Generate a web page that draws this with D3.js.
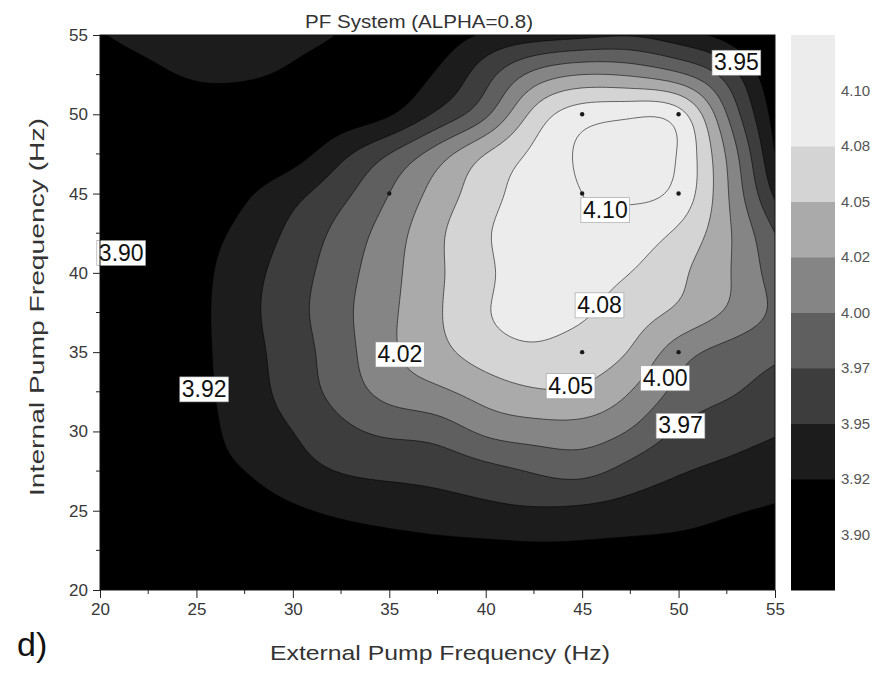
<!DOCTYPE html>
<html><head><meta charset="utf-8">
<script src="https://cdn.jsdelivr.net/npm/d3@7"></script>
<style>
body{margin:0;background:#fff;}
svg{display:block;font-family:"Liberation Sans",Arial,Helvetica,sans-serif;}
</style>
</head><body>
<svg id="chart" width="884" height="675"></svg>
<script>
// ---------------- data ----------------
const xValues = [20, 22.5, 25, 27.5, 30, 32.5, 35, 37.5, 40, 42.5, 45, 47.5, 50, 52.5, 55];
const yValues = [55, 52.5, 50, 47.5, 45, 42.5, 40, 37.5, 35, 32.5, 30, 27.5, 25, 22.5, 20];
// one row per Internal Pump Frequency (top = 55 Hz), columns follow xValues
const z55   = [3.922, 3.940, 3.945, 3.945, 3.940, 3.922, 3.900, 3.910, 3.928, 3.937, 3.943, 3.948, 3.935, 3.915, 3.875];
const z52_5 = [3.900, 3.915, 3.930, 3.930, 3.918, 3.905, 3.910, 3.928, 3.965, 4.007, 4.025, 4.022, 4.005, 3.965, 3.900];
const z50   = [3.890, 3.895, 3.900, 3.900, 3.903, 3.910, 3.923, 3.955, 3.995, 4.057, 4.088, 4.095, 4.085, 4.000, 3.915];
const z47_5 = [3.890, 3.893, 3.900, 3.905, 3.915, 3.943, 3.975, 4.012, 4.050, 4.080, 4.104, 4.115, 4.098, 4.022, 3.925];
const z45   = [3.885, 3.893, 3.903, 3.921, 3.942, 3.968, 4.000, 4.035, 4.065, 4.088, 4.100, 4.104, 4.092, 4.028, 3.945];
const z42_5 = [3.885, 3.897, 3.912, 3.933, 3.956, 3.983, 4.012, 4.045, 4.072, 4.093, 4.098, 4.090, 4.070, 4.030, 3.975];
const z40   = [3.887, 3.900, 3.917, 3.940, 3.963, 3.990, 4.017, 4.046, 4.070, 4.090, 4.087, 4.075, 4.055, 4.028, 3.988];
const z37_5 = [3.886, 3.899, 3.918, 3.942, 3.966, 3.993, 4.020, 4.047, 4.073, 4.083, 4.078, 4.062, 4.045, 4.022, 3.995];
const z35   = [3.886, 3.899, 3.918, 3.940, 3.963, 3.990, 4.020, 4.042, 4.062, 4.071, 4.064, 4.048, 4.012, 3.992, 3.980];
const z32_5 = [3.886, 3.898, 3.917, 3.938, 3.960, 3.985, 4.008, 4.020, 4.036, 4.047, 4.046, 4.025, 3.993, 3.978, 3.966];
const z30   = [3.886, 3.898, 3.915, 3.934, 3.950, 3.968, 3.980, 3.986, 4.005, 4.013, 4.014, 3.998, 3.972, 3.960, 3.952];
const z27_5 = [3.887, 3.898, 3.912, 3.925, 3.940, 3.951, 3.955, 3.958, 3.967, 3.977, 3.982, 3.966, 3.952, 3.945, 3.938];
const z25   = [3.885, 3.893, 3.900, 3.910, 3.921, 3.930, 3.936, 3.940, 3.944, 3.947, 3.945, 3.940, 3.935, 3.928, 3.922];
const z22_5 = [3.882, 3.887, 3.892, 3.897, 3.903, 3.908, 3.912, 3.916, 3.918, 3.920, 3.920, 3.918, 3.916, 3.912, 3.905];
const z20   = [3.878, 3.882, 3.886, 3.890, 3.894, 3.897, 3.900, 3.902, 3.904, 3.905, 3.905, 3.903, 3.900, 3.896, 3.890];
const zRows = [z55, z52_5, z50, z47_5, z45, z42_5, z40, z37_5, z35, z32_5, z30, z27_5, z25, z22_5, z20];

const levels = [3.900, 3.925, 3.950, 3.975, 4.000, 4.025, 4.050, 4.075, 4.100];
const bandThresholds = [3.925, 3.950, 3.975, 4.000, 4.025, 4.050, 4.075];
const bandColors = ["#000000", "#1c1c1c", "#3d3d3d", "#5f5f5f", "#858585", "#aaaaaa", "#d4d4d4", "#ececec"];

const xTicks = [20, 25, 30, 35, 40, 45, 50, 55];
const yTicks = [20, 25, 30, 35, 40, 45, 50, 55];
const xMinor = [22.5, 27.5, 32.5, 37.5, 42.5, 47.5, 52.5];
const yMinor = [22.5, 27.5, 32.5, 37.5, 42.5, 47.5, 52.5];

const cbEdges = [3.875, 3.900, 3.925, 3.950, 3.975, 4.000, 4.025, 4.050, 4.075, 4.100, 4.125];
const cbTickValues = [3.900, 3.925, 3.950, 3.975, 4.000, 4.025, 4.050, 4.075, 4.100];
const cbTickLabels = ["3.90", "3.92", "3.95", "3.97", "4.00", "4.02", "4.05", "4.08", "4.10"];

const labelTexts = ["3.95", "4.10", "3.90", "4.08", "4.02", "4.05", "4.00", "3.92", "3.97"];
const labelX = [53.0, 46.2, 21.1, 45.9, 35.55, 44.4, 49.3, 25.4, 50.1];
const labelY = [53.3, 44.0, 41.3, 38.0, 34.9, 32.9, 33.4, 32.7, 30.4];

const dotX = [35, 45, 50, 45, 50, 45, 50, 35];
const dotY = [45, 50, 50, 45, 45, 35, 35, 35];

// ---------------- drawing ----------------
const svg = d3.select("#chart");
const X0 = 100, X1 = 775, Y0 = 35, Y1 = 590;
const x = d3.scaleLinear().domain([20, 55]).range([X0, X1]);
const y = d3.scaleLinear().domain([20, 55]).range([Y1, Y0]);
const color = d3.scaleThreshold().domain(bandThresholds).range(bandColors);

// smooth rendering of the read grid (natural cubic spline resampling, for drawing only)
const F = 10;
const nx = xValues.length, ny = yValues.length;
function splineM(v) {
  const n = v.length, M = new Float64Array(n);
  const c = new Float64Array(n), d = new Float64Array(n);
  for (let i = 1; i < n - 1; i++) {
    const r = 6 * (v[i + 1] - 2 * v[i] + v[i - 1]);
    const m = 4 - (i > 1 ? c[i - 1] : 0);
    c[i] = 1 / m;
    d[i] = (r - (i > 1 ? d[i - 1] : 0)) / m;
  }
  for (let i = n - 2; i >= 1; i--) M[i] = d[i] - c[i] * M[i + 1];
  return M;
}
function resample(v, count) {
  const n = v.length, M = splineM(v), out = new Float64Array(count);
  for (let k = 0; k < count; k++) {
    const u = k / F;
    let i = Math.floor(u); if (i >= n - 1) i = n - 2;
    const t = u - i, s = 1 - t;
    out[k] = s * v[i] + t * v[i + 1] + ((s * s * s - s) * M[i] + (t * t * t - t) * M[i + 1]) / 6;
  }
  return out;
}
const fx = (nx - 1) * F + 1, fy = (ny - 1) * F + 1;
const rowsH = zRows.map(r => resample(r, fx));
const fine = new Float64Array(fx * fy);
for (let c = 0; c < fx; c++) {
  const col = resample(rowsH.map(r => r[c]), fy);
  for (let j = 0; j < fy; j++) fine[j * fx + c] = col[j];
}
const dxStep = (xValues[nx - 1] - xValues[0]) / (fx - 1);
const dyStep = (yValues[ny - 1] - yValues[0]) / (fy - 1);
const proj = d3.geoTransform({
  point(px, py) {
    this.stream.point(x(xValues[0] + (px - 0.5) * dxStep), y(yValues[0] + (py - 0.5) * dyStep));
  }
});
const path = d3.geoPath(proj);
const contours = d3.contours().size([fx, fy]).thresholds(levels)(fine);

svg.append("defs").append("clipPath").attr("id", "clip")
  .append("rect").attr("x", X0).attr("y", Y0).attr("width", X1 - X0).attr("height", Y1 - Y0);

const plot = svg.append("g").attr("clip-path", "url(#clip)");
plot.append("rect").attr("x", X0).attr("y", Y0).attr("width", X1 - X0).attr("height", Y1 - Y0)
  .attr("fill", bandColors[0]);
plot.selectAll("path.fill").data(contours).join("path")
  .attr("class", "fill").attr("d", path).attr("fill", d => color(d.value)).attr("stroke", "none");
plot.selectAll("path.line").data(contours).join("path")
  .attr("class", "line").attr("d", path).attr("fill", "none")
  .attr("stroke", "#000").attr("stroke-opacity", 0.55).attr("stroke-width", 1);

// data points
plot.selectAll("circle.dot").data(dotX).join("circle")
  .attr("class", "dot").attr("cx", d => x(d)).attr("cy", (d, i) => y(dotY[i]))
  .attr("r", 2.2).attr("fill", "#1a1a1a");

// contour labels
const lab = svg.append("g").selectAll("g").data(labelTexts).join("g")
  .attr("transform", (d, i) => `translate(${x(labelX[i])},${y(labelY[i])})`);
lab.append("rect");
lab.append("text").text(d => d).attr("text-anchor", "middle").attr("dy", "0.36em")
  .attr("font-size", 23).attr("fill", "#111");
lab.each(function () {
  const t = d3.select(this).select("text").node().getBBox();
  d3.select(this).select("rect")
    .attr("x", t.x - 2).attr("y", t.y + 1).attr("width", t.width + 4).attr("height", t.height - 1)
    .attr("fill", "#fff").attr("stroke", "#9a9a9a").attr("stroke-width", 0.6);
});

// frame
svg.append("rect").attr("x", X0).attr("y", Y0).attr("width", X1 - X0).attr("height", Y1 - Y0)
  .attr("fill", "none").attr("stroke", "#111").attr("stroke-width", 1);

// axes
const xAxis = d3.axisBottom(x).tickValues(xTicks).tickSize(8).tickPadding(5).tickFormat(d3.format("d"));
const gx = svg.append("g").attr("transform", `translate(0,${Y1})`).call(xAxis);
const yAxis = d3.axisLeft(y).tickValues(yTicks).tickSize(7).tickPadding(5).tickFormat(d3.format("d"));
const gy = svg.append("g").attr("transform", `translate(${X0},0)`).call(yAxis);
[gx, gy].forEach(g => {
  g.select(".domain").remove();
  g.selectAll(".tick line").attr("stroke", "#222");
  g.selectAll(".tick text").attr("font-size", 17).attr("fill", "#383838")
    .attr("font-family", "Liberation Sans, Arial, sans-serif");
});
svg.append("g").selectAll("line").data(xMinor).join("line")
  .attr("x1", d => x(d)).attr("x2", d => x(d)).attr("y1", Y1).attr("y2", Y1 + 4).attr("stroke", "#222");
svg.append("g").selectAll("line").data(yMinor).join("line")
  .attr("y1", d => y(d)).attr("y2", d => y(d)).attr("x1", X0).attr("x2", X0 - 4).attr("stroke", "#222");

// colour bar
const CB0 = 791, CB1 = 835;
const cb = d3.scaleLinear().domain([cbEdges[0], cbEdges[cbEdges.length - 1]]).range([Y1, Y0]);
svg.append("g").selectAll("rect").data(cbEdges.slice(0, -1)).join("rect")
  .attr("x", CB0).attr("width", CB1 - CB0)
  .attr("y", (d, i) => cb(cbEdges[i + 1])).attr("height", (d, i) => cb(d) - cb(cbEdges[i + 1]) + 0.5)
  .attr("fill", d => color(d + 1e-6));
svg.append("g").selectAll("text").data(cbTickValues).join("text")
  .attr("x", CB1 + 6).attr("y", d => cb(d)).attr("dy", "0.35em")
  .attr("font-size", 15).attr("fill", "#555").text((d, i) => cbTickLabels[i]);

// titles
svg.append("text").attr("x", 419).attr("y", 28).attr("text-anchor", "middle")
  .attr("font-size", 18).attr("fill", "#333").attr("textLength", 228).attr("lengthAdjust", "spacingAndGlyphs")
  .text("PF System (ALPHA=0.8)");
svg.append("text").attr("x", 440).attr("y", 660).attr("text-anchor", "middle")
  .attr("font-size", 21).attr("fill", "#333").attr("textLength", 340).attr("lengthAdjust", "spacingAndGlyphs")
  .text("External Pump Frequency (Hz)");
svg.append("text").attr("transform", "translate(44,307) rotate(-90)").attr("text-anchor", "middle")
  .attr("font-size", 21).attr("fill", "#333").attr("textLength", 378).attr("lengthAdjust", "spacingAndGlyphs")
  .text("Internal Pump Frequency (Hz)");
svg.append("text").attr("x", 17).attr("y", 656).attr("font-size", 34).attr("fill", "#111").text("d)");
</script>
</body></html>
